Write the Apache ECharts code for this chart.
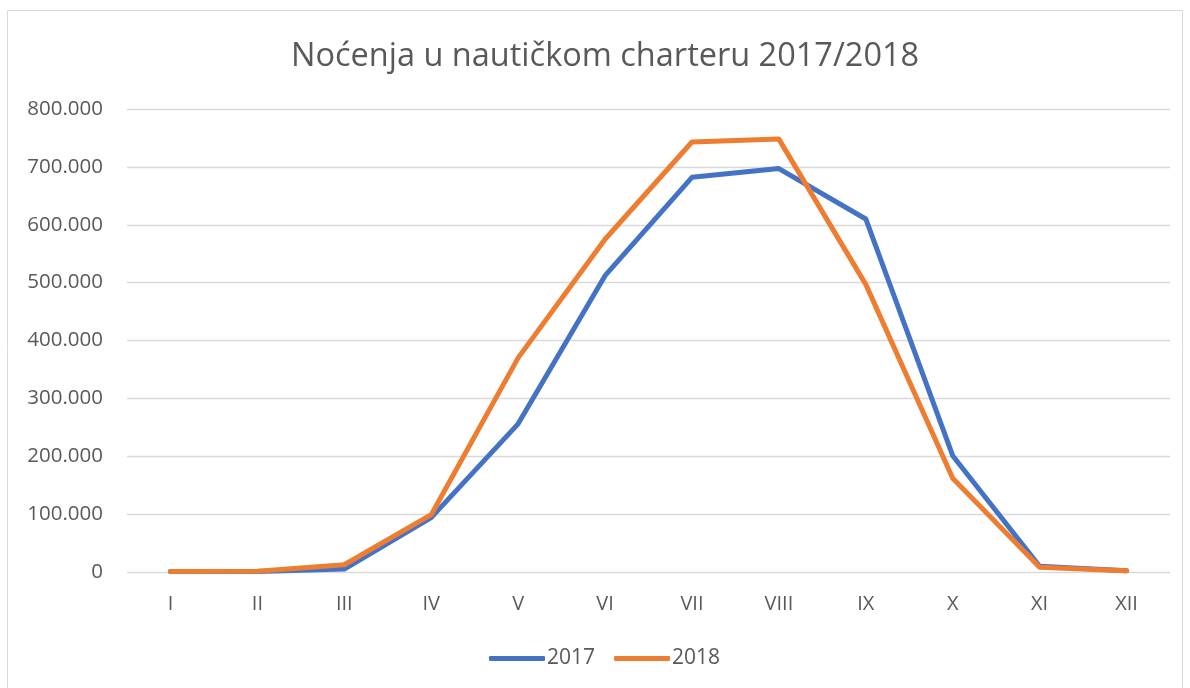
<!DOCTYPE html>
<html><head><meta charset="utf-8">
<script src="https://cdn.jsdelivr.net/npm/echarts@6/dist/echarts.min.js"></script>
<style>html,body{margin:0;padding:0;background:#fff}#c{width:1190px;height:688px}</style>
</head><body><div id="c"></div>
<script>
const categories = ['I','II','III','IV','V','VI','VII','VIII','IX','X','XI','XII'];
const series2017 = [1000, 1000, 5000, 94000, 256000, 512000, 682000, 697000, 610000, 201000, 10000, 2000];
const series2018 = [1000, 1500, 12500, 99000, 370000, 575000, 743000, 748000, 497000, 162000, 8000, 2000];
const seriesNames = ['2017', '2018'];
const titleText = 'Noćenja u nautičkom charteru 2017/2018';

function fmt(v){ if(v===0) return '0'; return String(v).replace(/\B(?=(\d{3})+(?!\d))/g,'.'); }

const chart = echarts.init(document.getElementById('c'), null, {renderer:'canvas'});
const font = '"Open Sans", "Noto Sans", sans-serif';
chart.setOption({
  backgroundColor:'#fff',
  animation:false,
  graphic:[{type:'rect',shape:{x:7.5,y:10.5,width:1175,height:700},style:{fill:'none',stroke:'#d9d9d9',lineWidth:1},silent:true}],
  title:{text:titleText,left:291,top:40,padding:0,textStyle:{fontFamily:font,fontSize:32.5,fontWeight:'normal',color:'#595959'}},
  legend:{bottom:19,left:489,padding:0,itemWidth:56,itemHeight:5,itemGap:19,icon:'roundRect',
    textStyle:{fontFamily:font,fontSize:21,color:'#595959',padding:[0,0,0,-3]},data:seriesNames},
  grid:{left:127,right:20,top:109,bottom:116},
  xAxis:{type:'category',data:categories,boundaryGap:true,
    axisLine:{show:false},axisTick:{show:false},
    axisLabel:{fontFamily:font,fontSize:20,color:'#595959',margin:22}},
  yAxis:{type:'value',min:0,max:800000,interval:100000,
    axisLine:{show:false},axisTick:{show:false},
    splitLine:{lineStyle:{color:'#d9d9d9',width:1.3}},
    axisLabel:{fontFamily:font,fontSize:20.5,color:'#595959',margin:24,formatter:fmt}},
  series:[
    {name:seriesNames[0],type:'line',data:series2017,symbol:'none',
     lineStyle:{color:'#4472C4',width:5,cap:'round',join:'round'},itemStyle:{color:'#4472C4'}},
    {name:seriesNames[1],type:'line',data:series2018,symbol:'none',
     lineStyle:{color:'#ED7D31',width:5,cap:'round',join:'round'},itemStyle:{color:'#ED7D31'}}
  ]
});
</script></body></html>
